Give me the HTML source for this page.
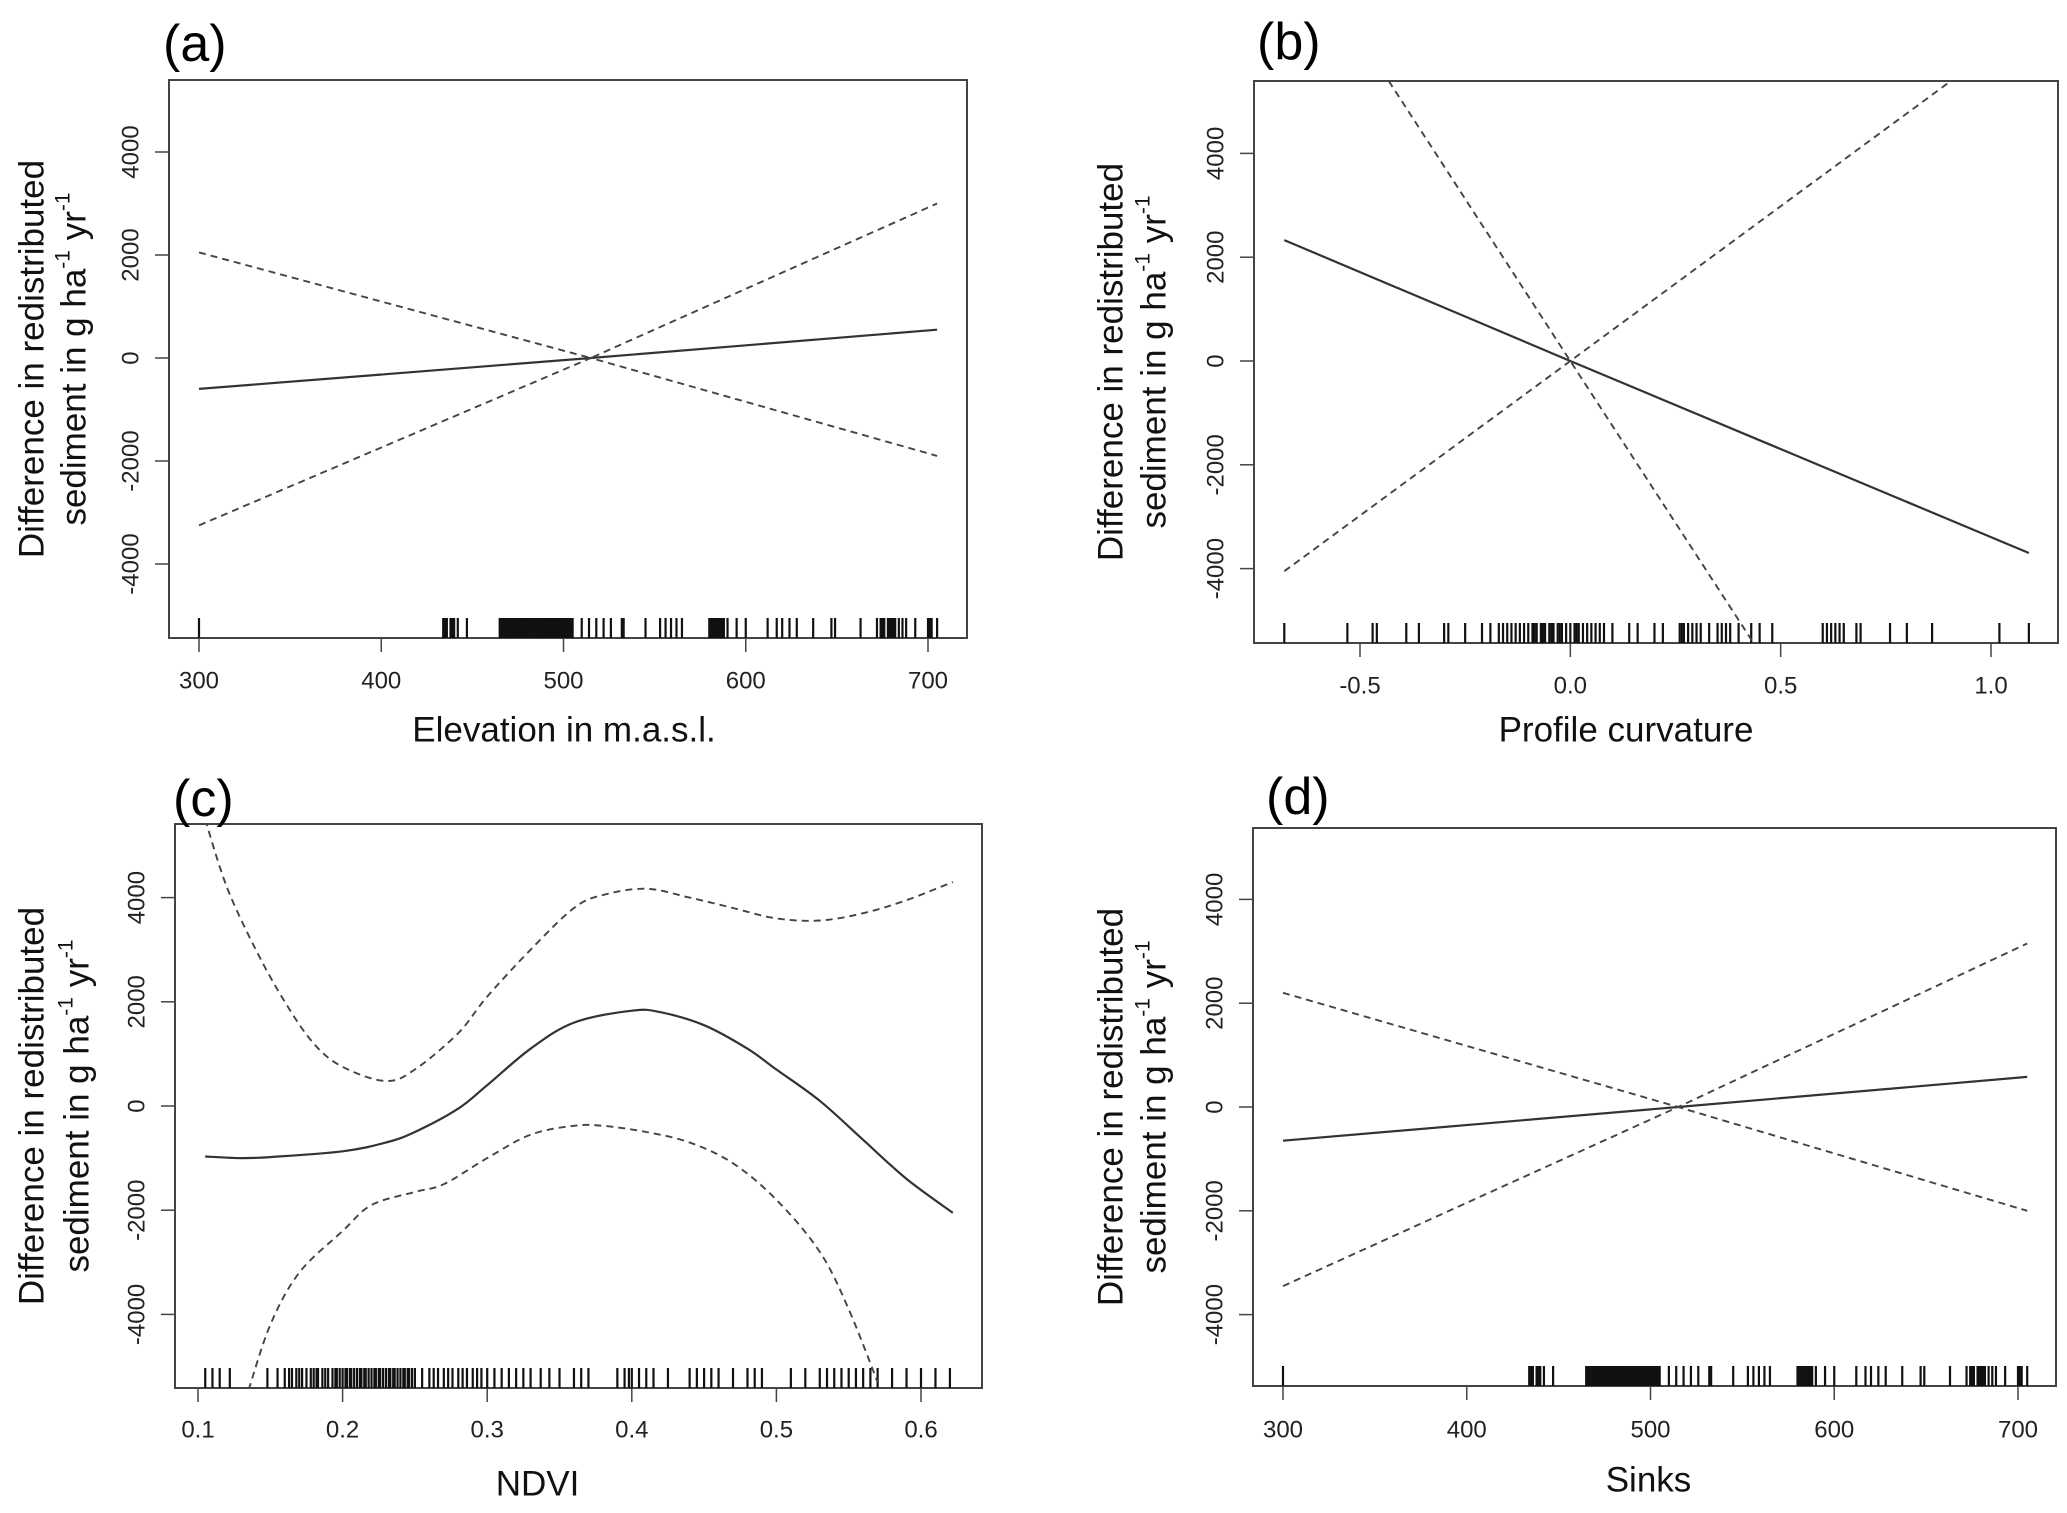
<!DOCTYPE html>
<html><head><meta charset="utf-8"><style>
html,body{margin:0;padding:0;background:#fff;}
svg{display:block;font-family:"Liberation Sans",Arial,sans-serif;}
</style></head><body>
<svg id="fig" width="2067" height="1513" viewBox="0 0 2067 1513" xmlns="http://www.w3.org/2000/svg"></svg>
<script>
// ---- Panel (a): Elevation ----
const aX = [300, 515, 705];
const aFit = [-600, 0, 550];
const aUpper = [2050, 0, 3000];
const aLower = [-3250, 0, -1900];
const aRug = [300,434,435,436,438,439,440,442,447,465,466,467,468,469,470,471,472,473,474,475,476,477,478,479,480,481,482,483,484,485,486,487,488,489,490,491,492,493,494,495,496,497,498,499,500,501,502,503,504,505,510,514,518,522,526,532,533,545,553,556,559,562,565,580,581,582,583,584,585,586,587,588,590,595,600,612,617,620,624,628,637,647,649,663,672,674,675,676,678,679,680,681,682,684,686,688,693,700,701,702,705];
const aXTicks = [300,400,500,600,700];
// ---- Panel (b): Profile curvature ----
const bX = [-0.68, 0, 1.09];
const bFit = [2330, 0, -3700];
const bSteep = [8500, 0, -13600];
const bRise = [-4050, 0, 6500];
const bRug = [-0.68,-0.53,-0.47,-0.46,-0.39,-0.36,-0.30,-0.29,-0.25,-0.21,-0.19,-0.17,-0.16,-0.15,-0.14,-0.13,-0.12,-0.11,-0.10,-0.09,-0.085,-0.08,-0.07,-0.065,-0.06,-0.05,-0.045,-0.04,-0.03,-0.025,-0.02,-0.01,0.0,0.01,0.015,0.02,0.03,0.04,0.05,0.06,0.07,0.08,0.1,0.14,0.16,0.2,0.22,0.26,0.265,0.27,0.28,0.29,0.3,0.31,0.33,0.35,0.36,0.37,0.38,0.4,0.43,0.45,0.48,0.6,0.61,0.62,0.63,0.64,0.65,0.68,0.69,0.76,0.8,0.86,1.02,1.09];
const bXTicks = [-0.5,0.0,0.5,1.0];
const bXTickLabels = ["-0.5","0.0","0.5","1.0"];
// ---- Panel (c): NDVI ----
const cX = [0.105,0.13,0.15,0.2,0.23,0.25,0.28,0.3,0.33,0.36,0.4,0.42,0.45,0.48,0.5,0.53,0.56,0.59,0.622];
const cFit = [-970,-1000,-980,-870,-700,-500,-50,400,1100,1600,1830,1800,1550,1100,700,100,-650,-1400,-2050];
const cUX = [0.105,0.12,0.14,0.16,0.18,0.2,0.23,0.25,0.28,0.3,0.33,0.36,0.38,0.41,0.44,0.47,0.5,0.53,0.56,0.59,0.622];
const cUpper = [5500,4200,3000,2000,1200,750,480,700,1400,2100,3000,3800,4050,4170,4000,3800,3600,3560,3700,3950,4300];
const cLX = [0.135,0.15,0.17,0.2,0.22,0.25,0.27,0.3,0.33,0.36,0.38,0.41,0.44,0.47,0.5,0.53,0.55,0.57];
const cLower = [-5450,-4200,-3200,-2400,-1900,-1650,-1500,-1000,-550,-380,-380,-500,-700,-1100,-1800,-2800,-3900,-5300];
const cRug = [0.105,0.11,0.115,0.122,0.148,0.155,0.16,0.163,0.165,0.168,0.17,0.172,0.175,0.178,0.18,0.182,0.183,0.186,0.188,0.19,0.193,0.195,0.196,0.198,0.2,0.202,0.203,0.205,0.206,0.208,0.21,0.212,0.213,0.215,0.216,0.218,0.22,0.222,0.223,0.225,0.226,0.228,0.23,0.232,0.233,0.235,0.236,0.238,0.24,0.242,0.243,0.245,0.246,0.248,0.25,0.255,0.26,0.263,0.266,0.27,0.273,0.276,0.28,0.283,0.286,0.29,0.293,0.296,0.3,0.305,0.31,0.315,0.32,0.325,0.33,0.337,0.343,0.35,0.36,0.365,0.37,0.39,0.395,0.398,0.4,0.405,0.41,0.415,0.425,0.44,0.445,0.45,0.455,0.46,0.47,0.48,0.485,0.49,0.51,0.52,0.53,0.535,0.54,0.545,0.55,0.555,0.56,0.565,0.57,0.58,0.59,0.6,0.61,0.62];
const cXTicks = [0.1,0.2,0.3,0.4,0.5,0.6];
const cXTickLabels = ["0.1","0.2","0.3","0.4","0.5","0.6"];
// ---- Panel (d): Sinks ----
const dX = [300, 515, 705];
const dFit = [-650, 0, 580];
const dUpper = [2200, 0, 3150];
const dLower = [-3450, 0, -2000];
const dRug = aRug.slice();
const dXTicks = [300,400,500,600,700];
const yTicks = [-4000,-2000,0,2000,4000];

const NS = "http://www.w3.org/2000/svg";
const fig = document.getElementById('fig');
function mk(tag, attrs, parent){ const e=document.createElementNS(NS,tag); for(const k in attrs) e.setAttribute(k,attrs[k]); (parent||fig).appendChild(e); return e; }

function linePath(pts){ return 'M'+pts.map(p=>p[0].toFixed(1)+','+p[1].toFixed(1)).join(' L'); }
function smoothPath(pts){
  let d='M'+pts[0][0].toFixed(1)+','+pts[0][1].toFixed(1);
  for(let i=0;i<pts.length-1;i++){
    const p0=pts[Math.max(0,i-1)],p1=pts[i],p2=pts[i+1],p3=pts[Math.min(pts.length-1,i+2)];
    const c1=[p1[0]+(p2[0]-p0[0])/6,p1[1]+(p2[1]-p0[1])/6];
    const c2=[p2[0]-(p3[0]-p1[0])/6,p2[1]-(p3[1]-p1[1])/6];
    d+=' C'+c1.map(v=>v.toFixed(1)).join(',')+' '+c2.map(v=>v.toFixed(1)).join(',')+' '+p2[0].toFixed(1)+','+p2[1].toFixed(1);
  }
  return d;
}

function panel(cfg){
  const g = mk('g',{});
  
  
  const L=cfg.box[0], R=cfg.box[1], T=cfg.box[2], B=cfg.box[3];
  const sx = v => cfg.x0px + (v-cfg.x0)*(cfg.x1px-cfg.x0px)/(cfg.x1-cfg.x0);
  const sy = v => cfg.y0px - v*cfg.pxPer1000/1000;
  const cid='clip-'+cfg.id;
  const cp = mk('clipPath',{id:cid},g); mk('rect',{x:L,y:T,width:R-L,height:B-T},cp);
  const box = mk('rect',{x:L,y:T,width:R-L,height:B-T,fill:'none',stroke:'#444','stroke-width':2},g);
  
  
  yTicks.forEach(v=>{
    const y=sy(v);
    const t=mk('line',{x1:L-14,x2:L,y1:y,y2:y,stroke:'#444','stroke-width':1.5},g);
    
    
    const tx=L-38;
    const lb=mk('text',{x:tx,y:y,'font-size':24,fill:'#222','text-anchor':'middle','dominant-baseline':'central',transform:`rotate(-90 ${tx} ${y})`},g);
    lb.textContent=String(v);
    
    
  });
  cfg.xTicks.forEach((v,i)=>{
    const x=sx(v);
    const t=mk('line',{x1:x,x2:x,y1:B,y2:B+14,stroke:'#444','stroke-width':1.5},g);
    
    
    const lb=mk('text',{x:x,y:cfg.tickY,'font-size':24,fill:'#222','text-anchor':'middle','dominant-baseline':'central'},g);
    lb.textContent=cfg.xLabels?cfg.xLabels[i]:String(v);
    
    
  });
  cfg.rug.forEach(v=>{
    const x=sx(v);
    const r=mk('line',{x1:x,x2:x,y1:B-20,y2:B,stroke:'#111','stroke-width':2.2},g);
    
    
  });
  const cg=mk('g',{'clip-path':`url(#${cid})`},g);
  cfg.series.forEach(s=>{
    const pts=s.xs.map((x,i)=>[sx(x),sy(s.ys[i])]);
    const d = cfg.straight ? linePath(pts) : smoothPath(pts);
    const p=mk('path',{d:d,fill:'none',stroke:s.dash?'#444':'#333','stroke-width':s.dash?1.9:2.2,'stroke-dasharray':s.dash?'7,5':'none'},cg);
    
    
  });
  const pl=mk('text',{x:cfg.tagX,y:cfg.tagY,'font-size':52,fill:'#000','dominant-baseline':'central'},g);
  pl.textContent='('+cfg.id+')';
  
  
  const xl=mk('text',{x:(L+R)/2+cfg.xlOff,y:cfg.xlY,'font-size':35,fill:'#111','text-anchor':'middle','dominant-baseline':'central'},g);
  xl.textContent=cfg.xTitle;
  
  
  const cy=(T+B)/2;
  const yl=mk('text',{'font-size':35,fill:'#111','text-anchor':'middle',transform:`translate(${cfg.ytX},${cy}) rotate(-90)`},g);
  
  
  const l1=mk('tspan',{x:0,y:0,'dominant-baseline':'central'},yl); l1.textContent='Difference in redistributed';
  const l2=mk('tspan',{x:0,y:cfg.ytGap,'dominant-baseline':'central'},yl);
  l2.appendChild(document.createTextNode('sediment in g ha'));
  const s1=mk('tspan',{'font-size':21,dy:-11},l2); s1.textContent='-1';
  const t2=mk('tspan',{dy:11},l2); t2.textContent=' yr';
  const s2=mk('tspan',{'font-size':21,dy:-11},l2); s2.textContent='-1';
}

panel({id:'a',straight:1,box:[169,967,80,638],x0:300,x1:700,x0px:199,x1px:928,y0px:358,pxPer1000:51.5,
  xTicks:aXTicks,tickY:681,rug:aRug,tagX:163,tagY:44,xTitle:'Elevation in m.a.s.l.',xlOff:-4,xlY:730,ytX:32,ytGap:42,
  series:[{name:'fit-line',xs:aX,ys:aFit},{name:'upper-ci',xs:aX,ys:aUpper,dash:1},{name:'lower-ci',xs:aX,ys:aLower,dash:1}]});
panel({id:'b',straight:1,box:[1254,2058,81,643],x0:-0.5,x1:1.0,x0px:1360,x1px:1991,y0px:361,pxPer1000:51.9,
  xTicks:bXTicks,xLabels:bXTickLabels,tickY:686,rug:bRug,tagX:1257,tagY:42,xTitle:'Profile curvature',xlOff:-30,xlY:730,ytX:1111,ytGap:43,
  series:[{name:'fit-line',xs:bX,ys:bFit},{name:'ci-steep',xs:bX,ys:bSteep,dash:1},{name:'ci-rising',xs:bX,ys:bRise,dash:1}]});
panel({id:'c',box:[175,982,824,1388],x0:0.1,x1:0.6,x0px:198,x1px:921,y0px:1106,pxPer1000:52.1,
  xTicks:cXTicks,xLabels:cXTickLabels,tickY:1430,rug:cRug,tagX:173,tagY:799,xTitle:'NDVI',xlOff:-41,xlY:1484,ytX:32,ytGap:45,
  series:[{name:'fit-line',xs:cX,ys:cFit},{name:'upper-ci',xs:cUX,ys:cUpper,dash:1},{name:'lower-ci',xs:cLX,ys:cLower,dash:1}]});
panel({id:'d',straight:1,box:[1253,2056,828,1386],x0:300,x1:700,x0px:1283,x1px:2018,y0px:1107,pxPer1000:51.9,
  xTicks:dXTicks,tickY:1430,rug:dRug,tagX:1266,tagY:797,xTitle:'Sinks',xlOff:-6,xlY:1480,ytX:1111,ytGap:43,
  series:[{name:'fit-line',xs:dX,ys:dFit},{name:'upper-ci',xs:dX,ys:dUpper,dash:1},{name:'lower-ci',xs:dX,ys:dLower,dash:1}]});
</script>
</body></html>
